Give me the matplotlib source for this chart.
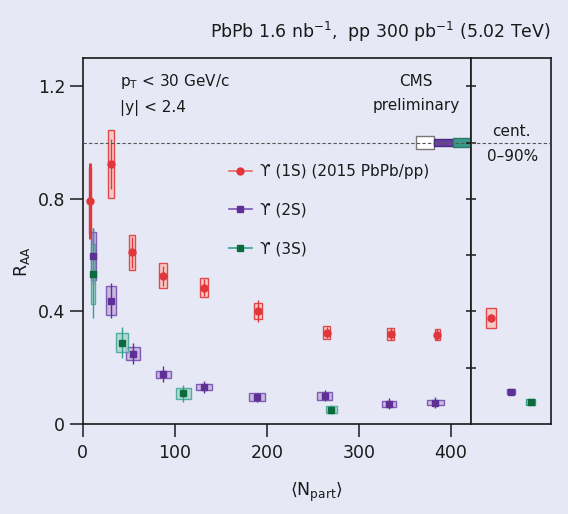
import numpy as np
import matplotlib
matplotlib.use('Agg')
import matplotlib.pyplot as plt
from matplotlib.lines import Line2D

# data
# Upsilon(1S)
npart_1s = [7.9, 30.8, 53.9, 87.3, 131.5, 190.2, 265.0, 334.3, 385.0]
raa_1s = [0.794, 0.924, 0.61, 0.527, 0.485, 0.402, 0.325, 0.32, 0.318]
stat_1s = [0.135, 0.09, 0.056, 0.035, 0.03, 0.038, 0.02, 0.02, 0.018]
syst_1s = [0.12, 0.122, 0.063, 0.045, 0.035, 0.027, 0.022, 0.02, 0.02]
nerr_1s = [1.2, 2.9, 3.4, 4.0, 4.2, 4.5, 4.0, 3.6, 2.9]

# Upsilon(2S)
npart_2s = [11.5, 31.0, 54.7, 87.6, 131.5, 189.0, 263.0, 332.5, 383.0]
raa_2s = [0.597, 0.439, 0.25, 0.177, 0.131, 0.095, 0.1, 0.072, 0.076]
stat_2s = [0.1, 0.062, 0.037, 0.028, 0.022, 0.016, 0.02, 0.02, 0.019]
syst_2s = [0.084, 0.052, 0.022, 0.012, 0.011, 0.014, 0.013, 0.01, 0.008]
nerr_2s = [2.7, 5.6, 7.2, 8.0, 8.9, 8.7, 8.2, 7.6, 9.4]

# Upsilon(3S)
npart_3s = [11.5, 43.0, 109.4, 270.0]
raa_3s = [0.534, 0.289, 0.109, 0.051]
stat_3s = [0.158, 0.056, 0.03, 0.015]
syst_3s = [0.106, 0.034, 0.019, 0.012]
nerr_3s = [2.3, 6.5, 8.0, 6.2]

# centrality integrated (0-90%), order 1S, 2S, 3S
raa_int = [0.376, 0.115, 0.079]
stat_int = [0.015, 0.005, 0.005]
syst_int = [0.035, 0.008, 0.01]

# global uncertainties at unity, order 1S, 2S, 3S
glob_unc = [0.023, 0.013, 0.017]

bg = '#e6e9f5'
ink = '#1a1a1a'
red, red_fill, red_edge = '#e0363c', '#f6cbc6', '#e0484c'
purple, purple_fill, purple_edge = '#5e2f95', '#c8b8df', '#7b55b5'
green, teal, teal_fill = '#0b6b3e', '#35a090', '#a8d6cc'

plt.rcParams['text.color'] = ink

W, H = 568, 514
fig = plt.figure(figsize=(W / 100, H / 100), dpi=100, facecolor=bg)
ax = fig.add_axes([82.7 / W, 90 / H, (471.3 - 82.7) / W, (424 - 58.3) / H], facecolor=bg)
axr = fig.add_axes([471.3 / W, 90 / H, (550.7 - 471.3) / W, (424 - 58.3) / H], facecolor=bg)

ax.set_xlim(0, 422)
ax.set_ylim(0, 1.3)
axr.set_xlim(0, 1)
axr.set_ylim(0, 1.3)

for a in (ax, axr):
    a.axhline(1.0, color='#555555', lw=0.8, ls=(0, (3, 2)), zorder=5)
    for s in a.spines.values():
        s.set_linewidth(1.2)
        s.set_color(ink)

# syst boxes
ax.bar(npart_1s, 2 * np.array(syst_1s), bottom=np.array(raa_1s) - syst_1s,
       width=2 * np.array(nerr_1s), color=red_fill, edgecolor=red_edge, lw=1.0, zorder=2)
ax.bar(npart_2s, 2 * np.array(syst_2s), bottom=np.array(raa_2s) - syst_2s,
       width=2 * np.array(nerr_2s), color=purple_fill, edgecolor=purple_edge, lw=1.0, zorder=2, alpha=0.95)
ax.bar(npart_3s, 2 * np.array(syst_3s), bottom=np.array(raa_3s) - syst_3s,
       width=2 * np.array(nerr_3s), color=teal_fill, edgecolor=teal, lw=1.0, zorder=2, alpha=0.8)

# stat errors and points
ax.errorbar(npart_1s[:1], raa_1s[:1], yerr=stat_1s[:1], fmt='o', color=red, ms=5,
            elinewidth=2.2, capsize=0, zorder=4)
ax.errorbar(npart_1s[1:], raa_1s[1:], yerr=stat_1s[1:], fmt='o', color=red, ms=5,
            elinewidth=1.0, capsize=0, zorder=4)
ax.errorbar(npart_2s, raa_2s, yerr=stat_2s, fmt='s', color=purple, ms=5,
            elinewidth=1.0, capsize=0, zorder=4)
ax.errorbar(npart_3s, raa_3s, yerr=stat_3s, fmt='s', color=green, ecolor=teal, ms=5,
            elinewidth=1.0, capsize=0, zorder=4)

# global uncertainty boxes
ax.bar([372, 392, 412], 2 * np.array(glob_unc), bottom=1 - np.array(glob_unc), width=20,
       color=['white', '#6a3fa0', '#3a9a8c'], edgecolor=['#777777', '#4a2a80', '#2a7a6c'],
       lw=1.0, zorder=3)

# integrated panel
pos_int = [0.25, 0.5, 0.75]
hw_int = [0.063, 0.055, 0.055]
axr.bar(pos_int, 2 * np.array(syst_int), bottom=np.array(raa_int) - syst_int,
        width=2 * np.array(hw_int), color=[red_fill, purple_fill, teal_fill],
        edgecolor=[red_edge, purple_edge, teal], lw=1.0, zorder=2)
for p, r, e, c, m in zip(pos_int, raa_int, stat_int, [red, purple, green], ['o', 's', 's']):
    axr.errorbar([p], [r], yerr=[e], fmt=m, color=c, ms=5, elinewidth=1.0, capsize=0, zorder=4)

# ticks
ax.set_xticks([0, 100, 200, 300, 400])
ax.set_yticks([0, 0.4, 0.8, 1.2])
ax.set_yticklabels(['0', '0.4', '0.8', '1.2'])
ax.tick_params(direction='out', length=9.5, width=1.1, labelsize=12.5, pad=3,
               top=False, right=False, colors=ink)
ax.tick_params(axis='x', pad=5)
axr.set_xticks([])
axr.set_yticks(np.arange(0.2, 1.21, 0.2))
axr.tick_params(axis='y', direction='inout', length=7, width=1.1, labelleft=False, colors=ink)

# text
fig.text(550.7 / W, 1 - 32 / H, 'PbPb 1.6 nb$^{-1}$,  pp 300 pb$^{-1}$ (5.02 TeV)',
         ha='right', va='center', fontsize=12.4)
ax.text(40.5, 1.218, r'p$_\mathrm{T}$ < 30 GeV/c', ha='left', va='center', fontsize=11)
ax.text(40.5, 1.125, '|y| < 2.4', ha='left', va='center', fontsize=11)
ax.text(362, 1.218, 'CMS', ha='center', va='center', fontsize=11)
ax.text(362, 1.132, 'preliminary', ha='center', va='center', fontsize=11)
axr.text(0.5, 1.04, 'cent.', ha='center', va='center', fontsize=11)
axr.text(0.52, 0.951, '0\u201390%', ha='center', va='center', fontsize=11)

fig.text(21.7 / W, 1 - 262 / H, r'R$_\mathrm{AA}$', rotation=90, ha='center', va='center', fontsize=12.5)
fig.text(316.7 / W, 1 - 492 / H, r'$\langle\mathrm{N}_\mathrm{part}\rangle$', ha='center', va='center',
         fontsize=12.5)

# legend
handles = [Line2D([0], [0], color='#e86a6a', marker='o', mfc=red, mec=red, ms=5, lw=1.2),
           Line2D([0], [0], color=purple_edge, marker='s', mfc=purple, mec=purple, ms=5, lw=1.2),
           Line2D([0], [0], color=teal, marker='s', mfc=green, mec=green, ms=5, lw=1.2)]
labels = ['\u03d2 (1S) (2015 PbPb/pp)', '\u03d2 (2S)', '\u03d2 (3S)']
ax.legend(handles, labels, loc='upper left', bbox_to_anchor=(229 / W, 1 - 164 / H),
          bbox_transform=fig.transFigure, frameon=False, fontsize=11, handlelength=1.5,
          handletextpad=0.5, labelspacing=1.55, borderpad=0, borderaxespad=0)

fig.savefig('out.png', dpi=100, facecolor=bg)
